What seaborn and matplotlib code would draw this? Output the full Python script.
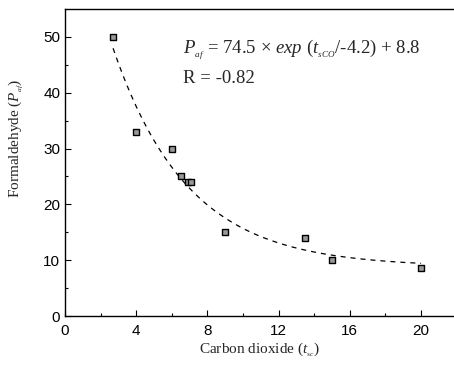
import numpy as np
import pandas as pd
import matplotlib
matplotlib.use("Agg")
import matplotlib.pyplot as plt
import seaborn as sns

# Data
co2 = [2.7, 4.0, 6.0, 6.5, 6.9, 7.1, 9.0, 13.5, 15.0, 20.0]
formaldehyde = [50.0, 33.0, 30.0, 25.0, 24.0, 24.0, 15.0, 14.0, 10.0, 8.6]
# Fit parameters shown in the chart
fit_a, fit_tau, fit_c = 74.5, 4.2, 8.8
xticks = [0, 4, 8, 12, 16, 20]
yticks = [0, 10, 20, 30, 40, 50]

sns.set_theme(style="ticks")
plt.rcParams["font.family"] = ["Liberation Sans", "DejaVu Sans"]
plt.rcParams["mathtext.fontset"] = "custom"
plt.rcParams["mathtext.rm"] = "Liberation Serif"
plt.rcParams["mathtext.it"] = "Liberation Serif:italic"

fig = plt.figure(figsize=(4.54, 3.65), dpi=100)
ax = fig.add_axes([65/454, 49/365, 1 - 65/454, (316-9)/365])

df = pd.DataFrame({"x": co2, "y": formaldehyde})
xs = np.linspace(min(co2), max(co2), 200)
fit = pd.DataFrame({"x": xs, "y": fit_a * np.exp(-xs / fit_tau) + fit_c})

sns.lineplot(data=fit, x="x", y="y", ax=ax, color="black", lw=0.9,
             linestyle=(0, (4, 4)))
sns.scatterplot(data=df, x="x", y="y", ax=ax, marker="s", s=16,
                color="#999999", edgecolor="black", linewidth=1.0, zorder=3)

ax.set_xlim(0, 21.85)
ax.set_ylim(0, 55)
ax.set_xticks(xticks)
ax.set_yticks(yticks)
ax.set_xticks([2, 6, 10, 14, 18], minor=True)
ax.set_yticks([5, 15, 25, 35, 45], minor=True)
ax.tick_params(which="both", direction="in", length=4, width=0.8,
               labelsize=11, colors="black")
ax.tick_params(which="minor", length=2)
ax.tick_params(axis="x", pad=6)
for s in ["left", "bottom", "top"]:
    ax.spines[s].set_linewidth(1.0)
    ax.spines[s].set_color("black")
ax.spines["right"].set_visible(False)

ax.set_xlabel(r"Carbon dioxide ($t_{_{sc}}$)",
              family="Liberation Serif", fontsize=11, labelpad=2)
ax.set_ylabel(r"Formaldehyde ($P_{_{af}}$)", family="Liberation Serif",
              fontsize=11)
ax.yaxis.set_label_coords(-0.1, 0.58)

ax.text(6.6, 47.8, r"$P_{_{af}}$ = 74.5 × $exp$ ($t_{_{sCO}}$/-4.2) + 8.8",
        family="Liberation Serif", fontsize=13.5, va="center", ha="left")
ax.text(6.6, 42.6, "R = -0.82", family="Liberation Serif", fontsize=13.5,
        va="center", ha="left")

fig.savefig("out.png", dpi=100)
